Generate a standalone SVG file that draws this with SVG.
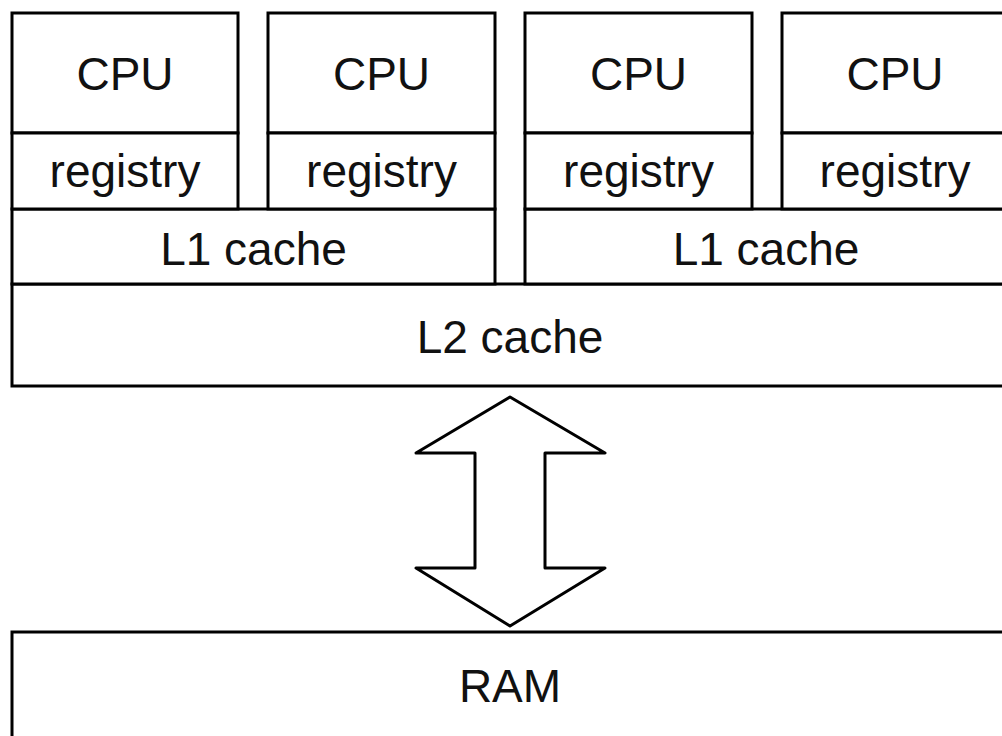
<svg xmlns="http://www.w3.org/2000/svg" width="1002" height="736" viewBox="0 0 1002 736">
<style>
.b{fill:#fff;stroke:#000;stroke-width:3}
.t{font-family:"Liberation Sans",Arial,sans-serif;font-size:46px;fill:#111;text-anchor:middle}
</style>
<rect width="1002" height="736" fill="#fff"/>
<g id="l2"><rect class="b" x="12" y="284" width="1000" height="102"/><text class="t" x="510" y="353">L2 cache</text></g>
<g id="l1a"><rect class="b" x="12" y="209" width="483" height="75"/><text class="t" x="253.5" y="265">L1 cache</text></g>
<g id="l1b"><rect class="b" x="525" y="209" width="487" height="75"/><text class="t" x="766" y="265">L1 cache</text></g>
<g id="cpu1"><rect class="b" x="12" y="13" width="226" height="120"/><text class="t" x="125" y="90">CPU</text></g>
<g id="reg1"><rect class="b" x="12" y="133" width="226" height="76"/><text class="t" x="125" y="187">registry</text></g>
<g id="cpu2"><rect class="b" x="268" y="13" width="227" height="120"/><text class="t" x="381.5" y="90">CPU</text></g>
<g id="reg2"><rect class="b" x="268" y="133" width="227" height="76"/><text class="t" x="381.5" y="187">registry</text></g>
<g id="cpu3"><rect class="b" x="525" y="13" width="227" height="120"/><text class="t" x="638.5" y="90">CPU</text></g>
<g id="reg3"><rect class="b" x="525" y="133" width="227" height="76"/><text class="t" x="638.5" y="187">registry</text></g>
<g id="cpu4"><rect class="b" x="782" y="13" width="226" height="120"/><text class="t" x="895" y="90">CPU</text></g>
<g id="reg4"><rect class="b" x="782" y="133" width="226" height="76"/><text class="t" x="895" y="187">registry</text></g>
<g id="ram"><rect class="b" x="12" y="632" width="1000" height="120"/><text class="t" x="510" y="702">RAM</text></g>
<g id="connectors"><path class="b" stroke-linejoin="round" d="M510,397 L605,453 L545,453 L545,568 L605,568 L510,626 L416,568 L475,568 L475,453 L416,453 Z"/></g>
</svg>
